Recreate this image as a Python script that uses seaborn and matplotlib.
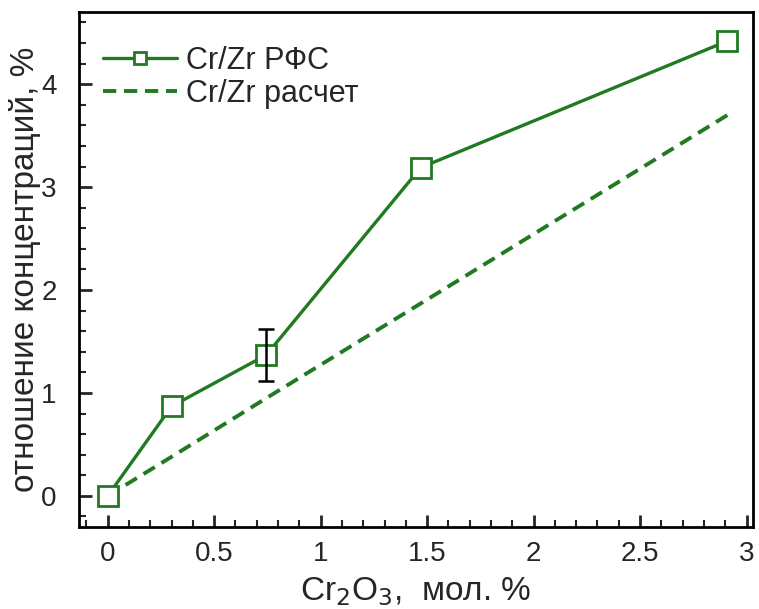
import matplotlib
matplotlib.use("Agg")
import matplotlib.pyplot as plt
from matplotlib.ticker import MultipleLocator
import seaborn as sns
import pandas as pd

# Measured Cr/Zr ratio (XPS) versus Cr2O3 content
cr2o3 = [0.0, 0.30, 0.745, 1.47, 2.91]
ratio_xps = [0.0, 0.87, 1.37, 3.19, 4.42]
err_x = [0.745]
err_y = [1.37]
err_size = [0.25]

# Calculated Cr/Zr ratio
cr2o3_calc = [0.0, 0.30, 0.745, 1.47, 2.91]
ratio_calc = [0.0, 0.38, 0.95, 1.87, 3.70]

df_xps = pd.DataFrame({"x": cr2o3, "y": ratio_xps})
df_calc = pd.DataFrame({"x": cr2o3_calc, "y": ratio_calc})

sns.set_style("white")
plt.rcParams["font.family"] = ["Liberation Sans", "DejaVu Sans"]

green = "#217a21"

fig = plt.figure(figsize=(7.59, 6.09), dpi=100)
ax = fig.add_axes([0.104, 0.135, 0.888, 0.845])

sns.lineplot(data=df_xps, x="x", y="y", ax=ax, color=green, lw=2.4,
             marker="s", markersize=14, markerfacecolor="white",
             markeredgecolor=green, markeredgewidth=2, label="Cr/Zr РФС",
             zorder=3)
sns.lineplot(data=df_calc, x="x", y="y", ax=ax, color=green, lw=2.8,
             linestyle=(0, (3.4, 2.0)), label="Cr/Zr расчет", zorder=2)
ax.errorbar(err_x, err_y, yerr=err_size, fmt="none", ecolor="black",
            elinewidth=1.8, capsize=6, capthick=1.8, zorder=4)

ax.set_xlim(-0.135, 3.03)
ax.set_ylim(-0.30, 4.70)
ax.xaxis.set_major_locator(MultipleLocator(0.5))
ax.xaxis.set_minor_locator(MultipleLocator(0.1))
ax.yaxis.set_major_locator(MultipleLocator(1))
ax.yaxis.set_minor_locator(MultipleLocator(0.2))
ax.set_xticks([0, 0.5, 1, 1.5, 2, 2.5, 3])
ax.set_xticklabels(["0", "0.5", "1", "1.5", "2", "2.5", "3"])

ax.tick_params(which="major", direction="in", length=9, width=2,
               labelsize=20, bottom=True, left=True, top=False, right=False)
ax.tick_params(axis="x", which="major", pad=10)
ax.tick_params(axis="y", which="major", pad=16)
ax.tick_params(which="minor", direction="in", length=5, width=1.5,
               bottom=True, left=True, top=False, right=False)

for s in ax.spines.values():
    s.set_linewidth(2)
    s.set_color("black")

ax.set_xlabel("Cr$_2$O$_3$,  мол. %", fontsize=24, labelpad=6)
ax.set_ylabel("отношение концентраций, %", fontsize=24)
ax.yaxis.set_label_coords(-0.056, 0.5)

leg = ax.legend(loc="upper left", bbox_to_anchor=(0.036, 0.935), frameon=False,
                fontsize=22, handlelength=2.4, handletextpad=0.3,
                borderaxespad=0, borderpad=0, labelspacing=0.1, markerscale=0.6)

fig.savefig("out.png", dpi=100)
